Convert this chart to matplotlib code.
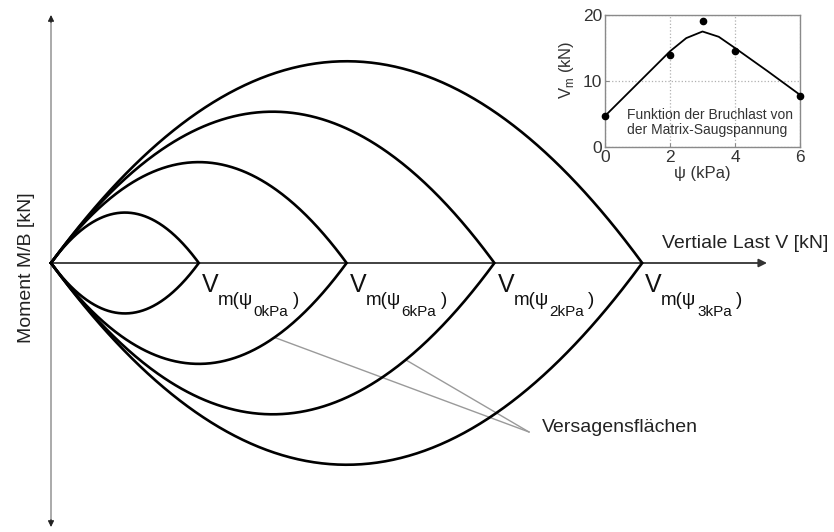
import numpy as np
import matplotlib
matplotlib.use("Agg")
import matplotlib.pyplot as plt

plt.rcParams["font.family"] = ["Liberation Sans", "DejaVu Sans"]

# Failure envelopes in the V - M/B plane: relative ultimate vertical loads
suction_labels = ["0kPa", "6kPa", "2kPa", "3kPa"]
vm_rel = [1.0, 2.0, 3.0, 4.0]
t_m = 1.365  # moment factor of the envelope M/B = t_m * V * (1 - V/Vm)

# Inset: ultimate load as a function of matric suction
psi_meas = [0, 2, 3, 4, 6]
vm_meas = [4.7, 14.0, 19.1, 14.6, 7.8]
psi_fit = [0, 1, 2, 2.5, 3, 3.5, 4, 5, 6]
vm_fit = [4.7, 9.6, 14.5, 16.5, 17.5, 16.7, 15.0, 11.5, 7.9]

W, H, DPI = 834, 532, 100
fig = plt.figure(figsize=(W / DPI, H / DPI), dpi=DPI)
ax = fig.add_axes([0, 0, 1, 1])
scale = 147.8          # pixels per load unit
ox, oy = 51, 263       # origin position (pixels from left / top)
ax.set_xlim(-ox / scale, (W - ox) / scale)
ax.set_ylim(-(H - oy) / scale, oy / scale)
ax.axis("off")

# --- coordinate axes -------------------------------------------------------
y_top = (oy - 15) / scale
y_bot = -(527 - oy) / scale
ax.plot([0, 0], [y_bot + 0.03, y_top - 0.03], color="#9c9c9c", lw=1.2, zorder=1)
for y0, y1 in [(y_top - 0.05, y_top), (y_bot + 0.05, y_bot)]:
    ax.annotate("", xy=(0, y1), xytext=(0, y0),
                arrowprops=dict(arrowstyle="-|>", color="#222222", lw=0.8,
                                mutation_scale=9, shrinkA=0, shrinkB=0))
x_tip = (767 - ox) / scale
ax.annotate("", xy=(x_tip, 0), xytext=(0, 0),
            arrowprops=dict(arrowstyle="-|>", color="#333333", lw=1.3,
                            mutation_scale=12, shrinkA=0, shrinkB=0), zorder=1)

ax.text(-24 / scale, -5 / scale, "Moment M/B [kN]", rotation=90,
        ha="center", va="center", fontsize=14, color="#222222")
ax.text((662 - ox) / scale, 20 / scale, "Vertiale Last V [kN]",
        ha="left", va="center", fontsize=14, color="#222222")

# --- failure envelopes -----------------------------------------------------
for vm in vm_rel:
    v = np.linspace(0, vm, 300)
    m = t_m * v * (1 - v / vm)
    ax.plot(np.concatenate([v, v[::-1]]), np.concatenate([m, -m[::-1]]),
            color="black", lw=1.9, solid_joinstyle="miter", zorder=3)

for vm, lab in zip(vm_rel, suction_labels):
    kw = dict(xy=(vm, 0), textcoords="offset pixels", ha="left",
              va="baseline", color="#111111")
    ax.annotate("V", xytext=(3, -29), fontsize=18, **kw)
    ax.annotate("m(ψ", xytext=(19, -42), fontsize=13.5, **kw)
    ax.annotate(lab, xytext=(55, -53), fontsize=11, **kw)
    ax.annotate(")", xytext=(94, -42), fontsize=13.5, **kw)

# leader lines to the label of the failure surfaces
lab_x, lab_y = (542 - ox) / scale, -(428 - oy) / scale
meet_x, meet_y = (529 - ox) / scale, -(432 - oy) / scale
for vm, xi in [(vm_rel[1], 0.756), (vm_rel[2], 0.80)]:
    v = xi * vm
    m = t_m * v * (1 - v / vm)
    ax.plot([v, meet_x], [-m, meet_y], color="#9a9a9a", lw=1.0, zorder=2)
ax.text(lab_x, lab_y, "Versagensflächen", ha="left", va="center",
        fontsize=14, color="#222222")

# --- inset -----------------------------------------------------------------
axi = fig.add_axes([605 / W, 1 - 147 / H, 195 / W, 132 / H])
axi.plot(psi_fit, vm_fit, color="black", lw=1.3, zorder=3)
axi.plot(psi_meas, vm_meas, "o", color="black", ms=4.5, clip_on=False, zorder=4)
axi.set_xlim(0, 6)
axi.set_ylim(0, 20)
axi.set_xticks([0, 2, 4, 6])
axi.set_yticks([0, 10, 20])
axi.grid(True, ls=":", color="#b0b0b0", lw=0.9)
for s in axi.spines.values():
    s.set_color("#8a8a8a")
    s.set_linewidth(1.0)
axi.tick_params(direction="in", length=3, labelsize=12.5, color="#8a8a8a",
                labelcolor="#333333", pad=2)
axi.set_xlabel("ψ (kPa)", fontsize=12, color="#333333", labelpad=1)
axi.text(-0.195, 0.583, r"V$_\mathregular{m}$ (kN)", rotation=90,
         transform=axi.transAxes, ha="center", va="center",
         fontsize=12, color="#333333")
axi.text(0.68, 3.7, "Funktion der Bruchlast von\nder Matrix-Saugspannung",
         ha="left", va="center", fontsize=10, color="#333333",
         linespacing=1.15)

fig.savefig("out.png", dpi=DPI)
